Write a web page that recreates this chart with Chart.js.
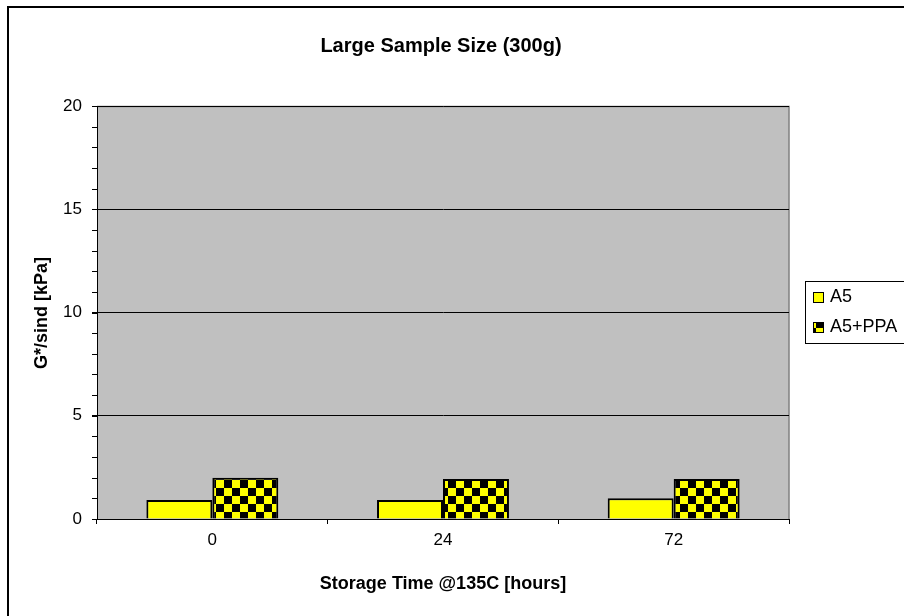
<!DOCTYPE html>
<html>
<head>
<meta charset="utf-8">
<script src="https://cdn.jsdelivr.net/npm/chart.js@4/dist/chart.umd.min.js"></script>
<style>
  html, body { margin: 0; padding: 0; background: #fff; }
  canvas { display: block; }
</style>
</head>
<body>
<canvas id="c" width="904" height="616"></canvas>
<script>
// Storage time categories and G*/sin(delta) readings
const categories = ['0', '24', '72'];
const a5Values = [0.92, 0.92, 1.0];
const a5PpaValues = [2.0, 1.94, 1.94];
const seriesNames = ['A5', 'A5+PPA'];
const yTicks = [0, 5, 10, 15, 20];

const FONT = '"Liberation Sans", Arial, sans-serif';

// yellow / black checkerboard fill
function makeChecker() {
  const p = document.createElement('canvas');
  p.width = 16; p.height = 16;
  const g = p.getContext('2d');
  g.fillStyle = '#FFFF00';
  g.fillRect(0, 0, 16, 16);
  g.fillStyle = '#000000';
  g.fillRect(0, 0, 8, 8);
  g.fillRect(8, 8, 8, 8);
  return g.createPattern(p, 'repeat');
}
const ctx0 = document.getElementById('c').getContext('2d');
const checker = makeChecker();

const decor = {
  id: 'decor',
  beforeDraw(chart) {
    const c = chart.ctx, a = chart.chartArea;
    c.save();
    c.fillStyle = '#fff';
    c.fillRect(0, 0, chart.width, chart.height);
    c.fillStyle = '#C0C0C0';
    c.fillRect(a.left, a.top, a.right - a.left, a.bottom - a.top);
    c.strokeStyle = '#808080';
    c.lineWidth = 1.5;
    c.beginPath();
    c.moveTo(a.left, a.top + 0.5);
    c.lineTo(a.right, a.top + 0.5);
    c.lineTo(a.right, a.bottom);
    c.stroke();
    c.restore();
  },
  afterDraw(chart) {
    const c = chart.ctx, a = chart.chartArea, y = chart.scales.y;
    c.save();
    // minor ticks on the value axis
    c.strokeStyle = '#000';
    c.lineWidth = 1;
    for (let v = 0; v <= 20; v++) {
      const py = Math.round(y.getPixelForValue(v)) + 0.5;
      c.beginPath();
      c.moveTo(a.left - 5, py);
      c.lineTo(a.left, py);
      c.stroke();
    }
    // outer frame
    c.lineWidth = 2;
    c.strokeRect(8, 7, 920, 640);

    // titles
    c.fillStyle = '#000';
    c.textAlign = 'center';
    c.textBaseline = 'middle';
    c.font = 'bold 20px ' + FONT;
    c.fillText('Large Sample Size (300g)', 441, 46);
    c.font = 'bold 18px ' + FONT;
    c.fillText('Storage Time @135C [hours]', 443, 584);
    c.save();
    c.translate(42, 313);
    c.rotate(-Math.PI / 2);
    c.fillText('G*/sind [kPa]', 0, 0);
    c.restore();

    // legend
    c.lineWidth = 1;
    c.strokeStyle = '#000';
    c.strokeRect(805.5, 281.5, 120, 62);
    const fills = ['#FFFF00', checker];
    const rows = [297, 327];
    c.font = '18px ' + FONT;
    c.textAlign = 'left';
    for (let i = 0; i < seriesNames.length; i++) {
      c.fillStyle = fills[i];
      c.fillRect(813, rows[i] - 5, 10, 10);
      c.strokeRect(813.5, rows[i] - 4.5, 10, 10);
      c.fillStyle = '#000';
      c.fillText(seriesNames[i], 830, rows[i]);
    }
    c.restore();
  }
};

new Chart(ctx0, {
  type: 'bar',
  data: {
    labels: categories,
    datasets: [
      { label: seriesNames[0], data: a5Values, backgroundColor: '#FFFF00',
        borderColor: '#000', borderWidth: 2 },
      { label: seriesNames[1], data: a5PpaValues, backgroundColor: checker,
        borderColor: '#000', borderWidth: 2 }
    ]
  },
  options: {
    responsive: false,
    animation: false,
    events: [],
    categoryPercentage: 0.572,
    barPercentage: 1,
    layout: { padding: { top: 106, right: 115, left: 0, bottom: 0 } },
    plugins: { legend: { display: false }, title: { display: false }, tooltip: { enabled: false } },
    scales: {
      x: {
        offset: true,
        afterFit(s) { s.height = 97; },
        grid: { offset: true, drawOnChartArea: false, drawTicks: true, tickLength: 5, color: '#000' },
        border: { display: true, color: '#000', width: 1 },
        ticks: { color: '#000', font: { family: FONT, size: 17 }, padding: 6 }
      },
      y: {
        min: 0, max: 20,
        afterFit(s) { s.width = 97; },
        afterBuildTicks(s) { s.ticks = yTicks.map(v => ({ value: v })); },
        grid: { color: '#000', lineWidth: 1, drawTicks: true, tickLength: 5 },
        border: { display: true, color: '#000', width: 1 },
        ticks: { color: '#000', font: { family: FONT, size: 17 }, padding: 10 }
      }
    }
  },
  plugins: [decor]
});
</script>
</body>
</html>
